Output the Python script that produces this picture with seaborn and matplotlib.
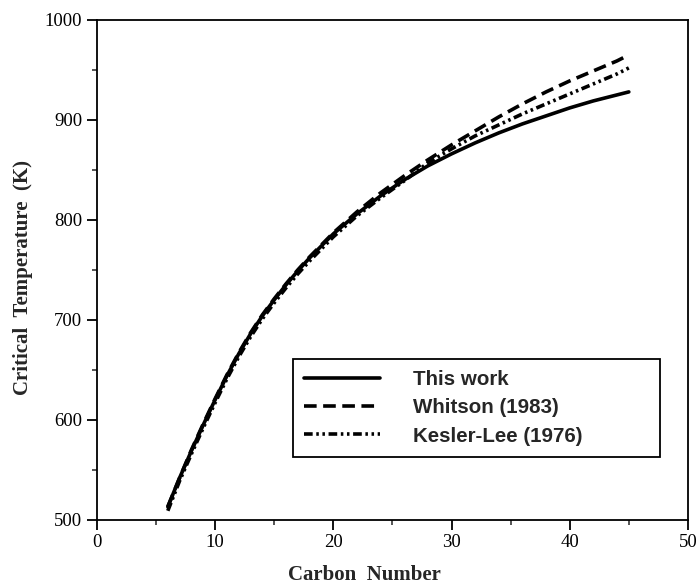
import pandas as pd
import seaborn as sns
import matplotlib.pyplot as plt
from matplotlib.ticker import MultipleLocator

# values (critical temperature in K vs carbon number)
carbon = [6, 7, 8, 9, 10, 11, 12, 13, 14, 15, 16, 17, 18, 19, 20,
          22, 24, 26, 28, 30, 32, 34, 36, 38, 40, 42, 44, 45]
this_work = [513, 542, 569, 595, 620, 644, 666, 686, 704, 720, 735, 749, 762, 774, 786,
             806, 824, 840, 854, 866, 877, 887, 896, 904, 912, 919, 925, 928]
whitson = [513, 542, 570, 596, 621, 645, 667, 687, 705, 721, 736, 750, 763, 775, 787,
           808, 827, 844, 860, 875, 889, 903, 916, 928, 939, 949, 959, 965]
kesler_lee = [509, 539, 566, 592, 617, 641, 663, 683, 701, 717, 732, 746, 759, 771, 783,
              804, 822, 839, 857, 871, 884, 895, 906, 916, 926, 936, 946, 952]

labels = ["This work", "Whitson (1983)", "Kesler-Lee (1976)"]

df = pd.concat([
    pd.DataFrame({"carbon": carbon, "tc": this_work, "method": labels[0]}),
    pd.DataFrame({"carbon": carbon, "tc": whitson, "method": labels[1]}),
    pd.DataFrame({"carbon": carbon, "tc": kesler_lee, "method": labels[2]}),
])

sns.set_style("ticks")
plt.rcParams["font.family"] = ["Liberation Serif", "DejaVu Serif"]

fig = plt.figure(figsize=(6.97, 5.86), dpi=100)
ax = fig.add_axes([0.139, 0.113, 0.848, 0.853])

dash_map = {labels[0]: "", labels[1]: (3.5, 1.8), labels[2]: (2.4, 1.0, 0.7, 1.0, 0.7, 1.0)}
sns.lineplot(data=df, x="carbon", y="tc", style="method", dashes=dash_map,
             color="black", linewidth=2.6, ax=ax)

ax.set_xlim(0, 50)
ax.set_ylim(500, 1000)
ax.xaxis.set_major_locator(MultipleLocator(10))
ax.xaxis.set_minor_locator(MultipleLocator(5))
ax.yaxis.set_major_locator(MultipleLocator(100))
ax.yaxis.set_minor_locator(MultipleLocator(50))
ax.tick_params(which="major", direction="out", length=7, width=1.3, labelsize=13.5, colors="black")
ax.tick_params(which="minor", direction="out", length=3.5, width=1.1)
for sp in ax.spines.values():
    sp.set_linewidth(1.3)
    sp.set_color("black")

ax.set_xlabel("Carbon  Number", fontsize=15, fontweight="bold")
ax.set_ylabel("Critical  Temperature  (K)", fontsize=15, fontweight="bold")
ax.xaxis.set_label_coords(0.452, -0.09)
ax.yaxis.set_label_coords(-0.108, 0.485)

leg = ax.legend(title=None, loc="upper left", bbox_to_anchor=(0.332, 0.124, 0.621, 0.198),
                mode="expand", frameon=True, fancybox=False, edgecolor="black", framealpha=1,
                handlelength=3.7, handletextpad=1.6, labelspacing=0.45,
                borderpad=0.55, borderaxespad=0,
                prop={"family": "Liberation Sans", "weight": "bold", "size": 14.8})
leg.get_frame().set_linewidth(1.3)
for line in leg.get_lines():
    line.set_linewidth(2.6)

fig.savefig("out.png", dpi=100)
